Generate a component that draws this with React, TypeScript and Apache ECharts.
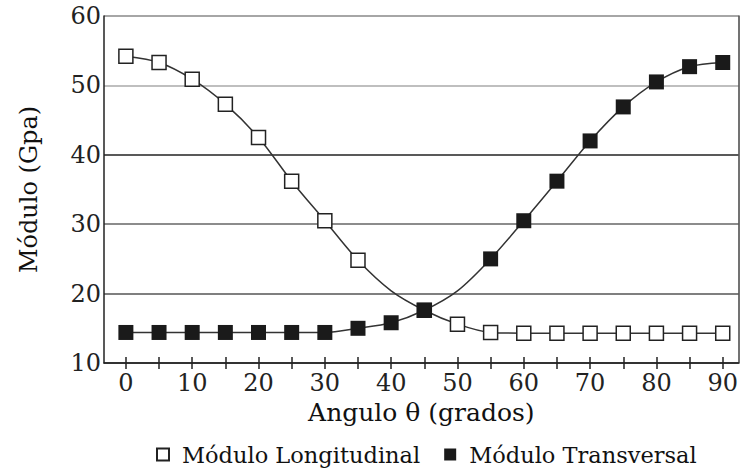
import React, { useEffect, useRef } from "react";
import * as echarts from "echarts";

const angles = [0, 5, 10, 15, 20, 25, 30, 35, 40, 45, 50, 55, 60, 65, 70, 75, 80, 85, 90];
const longitudinal = [54.2, 53.3, 50.9, 47.3, 42.5, 36.2, 30.5, 24.8, 20.4, 17.6, 15.6, 14.4, 14.3, 14.3, 14.3, 14.3, 14.3, 14.3, 14.3];
const transversal = [14.4, 14.4, 14.4, 14.4, 14.4, 14.4, 14.4, 15.0, 15.8, 17.6, 20.4, 25.0, 30.5, 36.2, 42.0, 46.9, 50.5, 52.7, 53.3];
const hiddenLongitudinal = [40];
const hiddenTransversal = [50];
const xLabelValues = [0, 10, 20, 30, 40, 50, 60, 70, 80, 90];
const xTickValues = angles;
const seriesNames = ["Módulo Longitudinal", "Módulo Transversal"];
const xTitle = "Angulo θ (grados)";
const yTitle = "Módulo (Gpa)";

const FONT = "DejaVu Serif";

export default function App() {
  const ref = useRef<HTMLDivElement>(null);
  useEffect(() => {
    if (!ref.current) return;
    const chart = echarts.init(ref.current, undefined, { renderer: "svg" });
    const xMin = -3.3;
    const xMax = 92.4;
    const baseX = {
      type: "value" as const,
      min: xMin,
      max: xMax,
      splitLine: { show: false },
    };
    chart.setOption({
      animation: false,
      backgroundColor: "#fff",
      textStyle: { fontFamily: FONT },
      grid: { left: 104, right: 2, top: 16, bottom: 110 },
      xAxis: [
        {
          ...baseX,
          name: xTitle,
          nameLocation: "middle",
          nameGap: 35,
          nameTextStyle: { fontSize: 25, color: "#111", fontFamily: FONT },
          axisLine: { show: true, onZero: false, lineStyle: { color: "#222", width: 1.5 } },
          axisTick: { show: true, inside: false, length: 6, customValues: xTickValues, lineStyle: { color: "#222", width: 1.5 } },
          axisLabel: { show: true, customValues: xLabelValues, fontSize: 24, color: "#222", margin: 8, fontFamily: FONT },
        },
        {
          ...baseX,
          position: "bottom",
          axisLine: { show: false, onZero: false },
          axisTick: { show: true, inside: true, length: 6, customValues: xTickValues, lineStyle: { color: "#222", width: 1.5 } },
          axisLabel: { show: false },
        },
      ],
      yAxis: [
        {
          type: "value",
          min: 10,
          max: 60,
          interval: 10,
          name: yTitle,
          nameLocation: "middle",
          nameGap: 63,
          nameTextStyle: { fontSize: 24, color: "#111", fontFamily: FONT },
          axisLine: { show: true, onZero: false, lineStyle: { color: "#222", width: 1.5 } },
          axisTick: { show: false },
          axisLabel: { fontSize: 24, color: "#222", margin: 3, fontFamily: FONT },
          splitLine: {
            show: true,
            lineStyle: { color: ["#333", "#555", "#666", "#222", "#aaa", "#888"], width: 1.5 },
          },
        },
        {
          type: "value",
          min: 10,
          max: 60,
          position: "right",
          axisLine: { show: true, onZero: false, lineStyle: { color: "#444", width: 1.5 } },
          axisTick: { show: false },
          axisLabel: { show: false },
          splitLine: { show: false },
        },
      ],
      legend: {
        left: 151,
        bottom: 2,
        itemGap: 24,
        itemWidth: 12,
        itemHeight: 12,
        textStyle: { fontSize: 22.5, color: "#111", fontFamily: FONT, padding: [0, 0, 0, 8] },
        data: [
          { name: seriesNames[0], icon: "rect" },
          { name: seriesNames[1], icon: "rect" },
        ],
      },
      series: [
        {
          name: seriesNames[0],
          type: "line",
          smooth: 0.3,
          showAllSymbol: true,
          symbol: "rect",
          symbolSize: 14,
          lineStyle: { color: "#333", width: 1.5 },
          itemStyle: { color: "#fff", borderColor: "#222", borderWidth: 1.5 },
          data: angles.map((a, i) => ({
            value: [a, longitudinal[i]],
            symbolSize: hiddenLongitudinal.includes(a) ? 0 : 14,
          })),
          z: 2,
        },
        {
          name: seriesNames[1],
          type: "line",
          smooth: 0.3,
          showAllSymbol: true,
          symbol: "rect",
          symbolSize: 15,
          lineStyle: { color: "#333", width: 1.5 },
          itemStyle: { color: "#1a1a1a", borderColor: "#1a1a1a", borderWidth: 0 },
          data: angles.map((a, i) => ({
            value: [a, transversal[i]],
            symbolSize: hiddenTransversal.includes(a) ? 0 : 15,
          })),
          z: 3,
        },
      ],
    });
    return () => chart.dispose();
  }, []);
  return (
    <div
      ref={ref}
      style={{ position: "fixed", left: 0, top: 0, width: 741, height: 473, background: "#fff" }}
    />
  );
}
